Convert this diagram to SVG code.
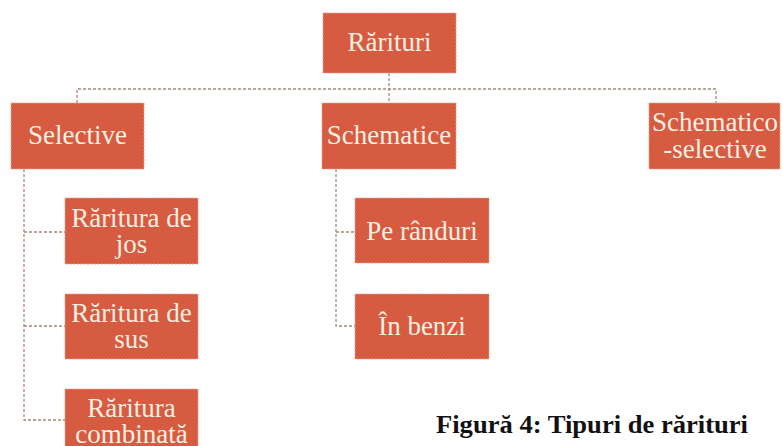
<svg xmlns="http://www.w3.org/2000/svg" width="782" height="446" viewBox="0 0 782 446">
<style>
.box{fill:#D65B40;stroke:#E8A08C;stroke-width:1;stroke-dasharray:2 1.5}
.lbl{font-family:"Liberation Serif","DejaVu Serif",serif;font-size:27px;fill:#FBF0E2;text-anchor:middle}
.con{fill:none;stroke:#A8877A;stroke-width:1.3;stroke-dasharray:3 2}
.cap{font-family:"Liberation Serif","DejaVu Serif",serif;font-size:25px;font-weight:bold;fill:#111}
</style>
<rect width="782" height="446" fill="#FFFFFF"/>
<g id="connectors">
<path class="con" d="M389 73V103"/>
<path class="con" d="M77 103V89H716V103"/>
<path class="con" d="M24 169V420H65M24 232H65M24 326H65"/>
<path class="con" d="M336 169V326H355M336 232H355"/>
</g>
<g id="n-raritur"><rect class="box" x="323" y="13" width="133" height="60"/><text class="lbl" x="389.5" y="51">Rărituri</text></g>
<g id="n-selective"><rect class="box" x="11" y="103" width="133" height="66"/><text class="lbl" x="77.5" y="144">Selective</text></g>
<g id="n-schematice"><rect class="box" x="322" y="103" width="134" height="66"/><text class="lbl" x="389" y="144">Schematice</text></g>
<g id="n-schemsel"><rect class="box" x="649" y="103" width="131" height="66"/><text class="lbl" x="715" y="131">Schematico</text><text class="lbl" x="715" y="158">-selective</text></g>
<g id="n-jos"><rect class="box" x="65" y="198" width="133" height="66"/><text class="lbl" x="131.5" y="227">Răritura de</text><text class="lbl" x="131.5" y="253">jos</text></g>
<g id="n-sus"><rect class="box" x="65" y="294" width="133" height="65"/><text class="lbl" x="131.5" y="322">Răritura de</text><text class="lbl" x="131.5" y="348">sus</text></g>
<g id="n-comb"><rect class="box" x="65" y="389" width="133" height="66"/><text class="lbl" x="131.5" y="417">Răritura</text><text class="lbl" x="131.5" y="443">combinată</text></g>
<g id="n-randuri"><rect class="box" x="355" y="198" width="134" height="65"/><text class="lbl" x="422" y="240">Pe rânduri</text></g>
<g id="n-benzi"><rect class="box" x="355" y="294" width="134" height="65"/><text class="lbl" x="422" y="335">În benzi</text></g>
<text class="cap" x="436" y="433" textLength="312" lengthAdjust="spacingAndGlyphs">Figură 4: Tipuri de rărituri</text>
</svg>
